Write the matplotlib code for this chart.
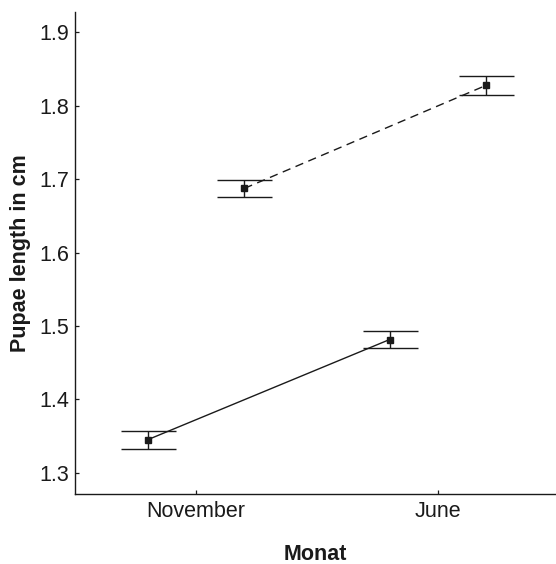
import matplotlib
matplotlib.use("Agg")
import matplotlib.pyplot as plt
import numpy as np

plt.rcParams['font.family'] = ['Liberation Sans', 'DejaVu Sans']

# ---- data ----
months = ["November", "June"]
lower_mean = [1.345, 1.4815]
lower_err = [0.012, 0.0115]
upper_mean = [1.6875, 1.828]
upper_err = [0.0115, 0.013]
y_ticks = [1.3, 1.4, 1.5, 1.6, 1.7, 1.8, 1.9]
x_label = "Monat"
y_label = "Pupae length in cm"

# ---- layout ----
dodge = 0.2
ink = "#1a1a1a"

fig = plt.figure(figsize=(5.56, 5.64), dpi=100)
ax = fig.add_axes([0.135, 0.124, 0.865, 0.855])

x = np.arange(len(months))

ax.errorbar(x - dodge, lower_mean, yerr=lower_err, fmt='s', color=ink,
            ms=4.5, lw=1.0, capsize=19.8, capthick=1.0, linestyle='-',
            zorder=3)
ax.errorbar(x + dodge, upper_mean, yerr=upper_err, fmt='s', color=ink,
            ms=4.5, lw=1.0, capsize=19.8, capthick=1.0, linestyle='none',
            zorder=3)
ax.plot(x + dodge, upper_mean, color=ink, lw=1.0, dashes=(6, 4), zorder=2)

ax.set_xlim(-0.5, 1.488)
ax.set_ylim(1.271, 1.928)
ax.set_xticks(x)
ax.set_xticklabels(months)
ax.set_yticks(y_ticks)
ax.set_yticklabels([f"{v:.1f}" for v in y_ticks])

for s in ["top", "right"]:
    ax.spines[s].set_visible(False)
for s in ["left", "bottom"]:
    ax.spines[s].set_linewidth(1.0)
    ax.spines[s].set_color(ink)

ax.tick_params(direction='in', length=3, width=0.9, colors=ink,
               labelsize=15.5, labelcolor=ink)
ax.tick_params(axis='y', pad=4.5)
ax.tick_params(axis='x', pad=5)

ax.set_xlabel(x_label, fontsize=15.5, fontweight='bold', color=ink, labelpad=16)
ax.set_ylabel(y_label, fontsize=15.5, fontweight='bold', color=ink, labelpad=6)

fig.savefig("out.png", dpi=100)
